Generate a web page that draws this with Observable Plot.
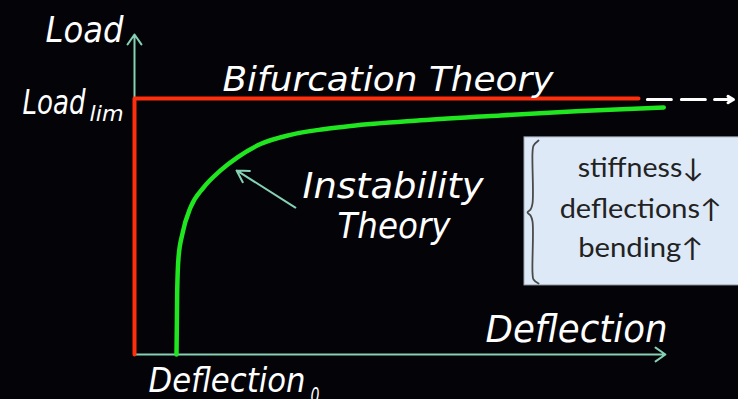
<!DOCTYPE html>
<html><head><meta charset="utf-8">
<script src="https://cdn.jsdelivr.net/npm/d3@7"></script>
<script src="https://cdn.jsdelivr.net/npm/@observablehq/plot@0.6"></script>
<style>html,body{margin:0;padding:0;background:#030308;overflow:hidden}#chart svg{display:block}</style>
</head><body><div id="chart"></div>
<script>
// ---- data (deflection units: Deflection0 = 1, load units: Load_lim = 1) ----
const loadLim = 1;
const deflection0 = 1;
const bifurcationEnd = 12;
const axisEndX = 12.64;
const axisEndY = 1.25;
const curveDeflection = [1.0, 1.017, 1.048, 1.143, 1.333, 1.643, 2.048, 2.452, 3.0, 3.714, 4.5, 5.143, 6.81, 8.71, 10.62, 12.6];
const curveLoad       = [0, 0.25, 0.379, 0.473, 0.574, 0.652, 0.719, 0.770, 0.822, 0.858, 0.880, 0.893, 0.915, 0.934, 0.951, 0.965];

// annotations
const labelText = ["Load", "Load", "lim", "Bifurcation Theory", "Instability", "Theory", "Deflection", "Deflection", "0"];
const labelX    = [-2.119, -2.667, -1.07, 2.095, 4.0, 4.833, 8.357, 0.333, 4.19];
const labelY    = [1.219, 0.941, 0.914, 1.031, 0.613, 0.457, 0.047, -0.145, -0.19];
const labelSize = [36, 33, 22, 34, 36, 36, 37, 33, 22];
const labelWidth = [78, 63, 34, 331, 181, 113, 182, 157, 9];

const boxText  = ["stiffness\u2193", "deflections\u2191", "bending\u2191"];
const boxTextY = [0.695, 0.535, 0.379];
const boxTextX = 12.05;
const boxWidth = [126, 162, 125];
const box = {x1: 9.286, x2: 14.5, y1: 0.27, y2: 0.848};
const braceX = [9.619, 9.5, 9.476, 9.476, 9.429, 9.357, 9.429, 9.476, 9.476, 9.5, 9.619];
const braceY = [0.836, 0.816, 0.789, 0.590, 0.566, 0.555, 0.543, 0.520, 0.320, 0.293, 0.277];

const dashFrom = 12.21, dashTo = 13.76, dashHeadTo = 14.26, dashY = 0.996;
const pointer = {x1: 3.83, y1: 0.574, x2: 2.43, y2: 0.719};

const redPath = [[0, 0], [0, loadLim], [bifurcationEnd, loadLim]];
const greenPath = curveDeflection.map((d, i) => [d, curveLoad[i]]);
const li = d3.range(labelText.length);
const bi = d3.range(boxText.length);
const teal = "#86d1b4";

const chart = Plot.plot({
  width: 738, height: 399,
  marginLeft: 134, marginRight: 0, marginTop: 34, marginBottom: 45,
  x: {domain: [0, 14.38], axis: null},
  y: {domain: [0, 1.25], axis: null},
  style: {background: "#030308", overflow: "hidden"},
  marks: [
    // info box
    Plot.rect([box], {x1: "x1", x2: "x2", y1: "y1", y2: "y2", fill: "#dde9f7", stroke: "#a9b4bf", strokeWidth: 1}),
    Plot.line(braceX.map((x, i) => [x, braceY[i]]), {curve: "catmull-rom", stroke: "#4a4a4a", strokeWidth: 1.8}),
    Plot.text(bi, {x: () => boxTextX, y: i => boxTextY[i], text: i => boxText[i], textAnchor: "middle", lineAnchor: "bottom",
      fontFamily: "Lato, 'Open Sans', sans-serif", fontSize: 26, fill: "#222"}),
    // axes
    Plot.arrow([[0, 0, axisEndX, 0], [0, 0, 0, axisEndY]], {x1: d => d[0], y1: d => d[1], x2: d => d[2], y2: d => d[3],
      stroke: teal, strokeWidth: 2, headLength: 9, headAngle: 70}),
    // bifurcation
    Plot.line(redPath, {stroke: "#ff2e0c", strokeWidth: 4}),
    Plot.line([[dashFrom, dashY], [dashTo, dashY]], {stroke: "#fff", strokeWidth: 3, strokeDasharray: "24,10"}),
    Plot.arrow([[dashTo + 0.05, dashY, dashHeadTo, dashY]], {x1: d => d[0], y1: d => d[1], x2: d => d[2], y2: d => d[3],
      stroke: "#fff", strokeWidth: 3, headLength: 15, headAngle: 60}),
    // instability
    Plot.line(greenPath, {curve: "monotone-x", stroke: "#1fe61f", strokeWidth: 4.5}),
    Plot.arrow([pointer], {x1: "x1", y1: "y1", x2: "x2", y2: "y2", stroke: teal, strokeWidth: 2, headLength: 10, headAngle: 60}),
    // labels
    Plot.text(li, {x: i => labelX[i], y: i => labelY[i], text: i => labelText[i], fontSize: i => labelSize[i],
      textAnchor: "start", lineAnchor: "bottom", fontFamily: "'DejaVu Sans'", fontStyle: "italic", fill: "#fff"})
  ]
});

const groups = chart.querySelectorAll('g[aria-label="text"]');
groups[0].querySelectorAll("text").forEach((t, i) => { t.setAttribute("textLength", boxWidth[i]); t.setAttribute("lengthAdjust", "spacingAndGlyphs"); });
groups[1].querySelectorAll("text").forEach((t, i) => { t.setAttribute("textLength", labelWidth[i]); t.setAttribute("lengthAdjust", "spacingAndGlyphs"); });
document.getElementById("chart").appendChild(chart);
</script></body></html>
